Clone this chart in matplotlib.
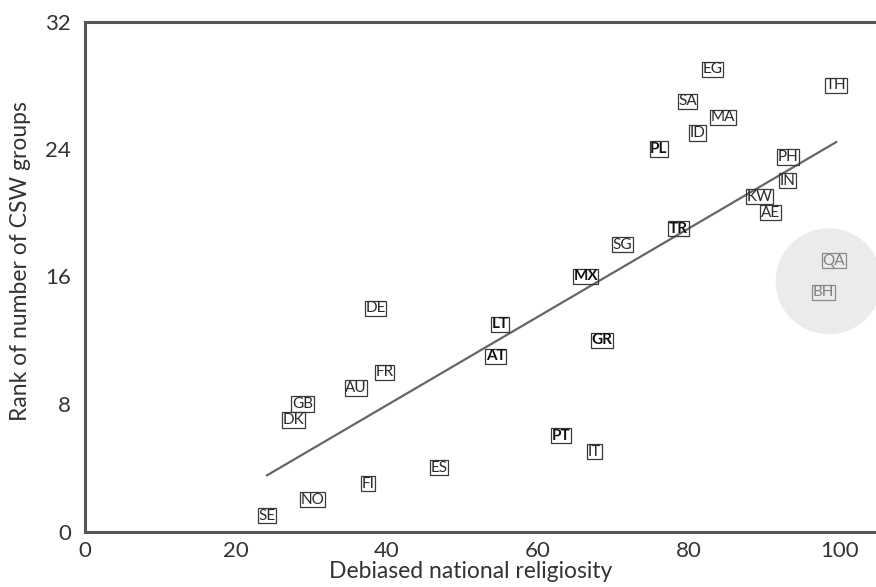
import numpy as np
import matplotlib
matplotlib.use("Agg")
import matplotlib.pyplot as plt
from matplotlib.patches import Ellipse

plt.rcParams['font.family'] = ['Lato', 'DejaVu Sans']

countries = ["SE", "NO", "FI", "ES", "IT", "PT", "DK", "GB", "AU", "FR",
             "AT", "GR", "LT", "DE", "BH", "MX", "QA", "SG", "TR", "AE",
             "KW", "IN", "PH", "PL", "ID", "MA", "SA", "TH", "EG"]
religiosity = [24.1, 30.1, 37.5, 46.9, 67.5, 63.0, 27.6, 28.8, 35.9, 39.7,
               54.4, 68.5, 55.0, 38.5, 97.8, 66.3, 99.2, 71.2, 78.6, 90.8,
               89.3, 93.0, 93.1, 76.0, 81.1, 84.5, 79.8, 99.5, 83.1]
rank_csw = [1, 2, 3, 4, 5, 6, 7, 8, 9, 10,
            11, 12, 13, 14, 15, 16, 17, 18, 19, 20,
            21, 22, 23.5, 24, 25, 26, 27, 28, 29]
bold_labels = ["PL", "TR", "MX", "LT", "AT", "GR", "PT"]
outliers = ["QA", "BH"]
x_ticks = [0, 20, 40, 60, 80, 100]
y_ticks = [0, 8, 16, 24, 32]

x = np.array(religiosity)
y = np.array(rank_csw, dtype=float)

fig = plt.figure(figsize=(8.76, 5.87), dpi=100)
W, H = 876, 587
AXW = 105 * 7.55
ax = fig.add_axes([85 / W, (587 - 531.5) / H, AXW / W, 510 / H])
ax.set_xlim(0, 105)
ax.set_ylim(0, 32)

# highlight circle around outliers
oi = [countries.index(c) for c in outliers]
cx, cy = x[oi].mean(), y[oi].mean()
r_px = 53
ax.add_patch(Ellipse((cx, cy - 0.3), width=2 * r_px / 7.55, height=2 * r_px / 15.94,
                     facecolor="#ebebeb", edgecolor="none", zorder=1))

# regression line
slope, intercept = np.polyfit(x, y, 1)
xs = np.array([x.min(), x.max()])
ax.plot(xs, intercept + slope * xs, color="#666666", lw=1.6, zorder=2)

for c, xi, yi in zip(countries, x, y):
    if c in outliers:
        col, ecol, fw = "#808080", "#8a8a8a", "normal"
    elif c in bold_labels:
        col, ecol, fw = "#111111", "#3a3a3a", "bold"
    else:
        col, ecol, fw = "#2a2a2a", "#3a3a3a", "normal"
    ax.text(xi, yi, c, ha="center", va="center", fontsize=11, color=col,
            fontweight=fw, zorder=3,
            bbox=dict(boxstyle="square,pad=0.04", facecolor="none",
                      edgecolor=ecol, lw=0.9))

ax.set_xticks(x_ticks)
ax.set_yticks(y_ticks)
ax.tick_params(length=0, labelsize=16, colors="#333333")
ax.tick_params(axis="x", pad=7)
ax.tick_params(axis="y", pad=10)

for s in ["left", "bottom", "top"]:
    ax.spines[s].set_color("#555555")
    ax.spines[s].set_linewidth(2.2)
ax.spines["right"].set_visible(False)

ax.set_xlabel("Debiased national religiosity", fontsize=16.5, color="#333333",
              va="center")
ax.xaxis.set_label_coords((471 - 85) / AXW, -(572 - 531.5) / 510)
ax.set_ylabel("Rank of number of CSW groups", fontsize=16.5, color="#333333",
              va="center")
ax.yaxis.set_label_coords(-(85 - 21) / AXW, (531.5 - 261) / 510)

fig.savefig("out.png", dpi=100)
